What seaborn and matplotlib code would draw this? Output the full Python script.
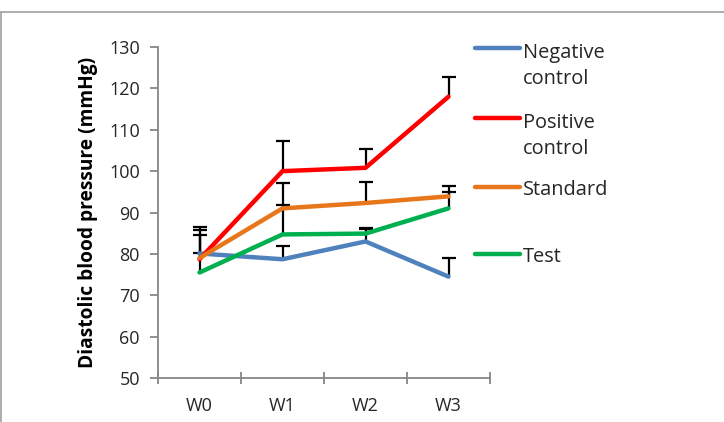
import numpy as np
import pandas as pd
import matplotlib
matplotlib.use("Agg")
import matplotlib.pyplot as plt
import seaborn as sns
from matplotlib.lines import Line2D

weeks = ["W0", "W1", "W2", "W3"]
groups = ["Negative control", "Positive control", "Standard", "Test"]
neg_mean = [80.1, 78.7, 83.0, 74.5]
neg_err = [6.3, 3.2, 3.2, 4.4]
pos_mean = [78.7, 100.0, 100.8, 118.0]
pos_err = [7.0, 7.3, 4.6, 4.8]
std_mean = [79.0, 91.0, 92.3, 93.9]
std_err = [5.6, 6.1, 5.0, 2.4]
test_mean = [75.5, 84.7, 84.9, 91.0]
test_err = [4.6, 7.2, 1.2, 4.0]
colors = ["#4F81BD", "#FF0000", "#E8761B", "#00B050"]

means = [neg_mean, pos_mean, std_mean, test_mean]
errs = [neg_err, pos_err, std_err, test_err]

rows = []
for g, m, e in zip(groups, means, errs):
    for i, w in enumerate(weeks):
        rows.append({"group": g, "week": w, "x": i, "mean": m[i], "err": e[i]})
df = pd.DataFrame(rows)

sns.set_theme(style="white")
plt.rcParams['font.family'] = ['Open Sans', 'DejaVu Sans']

W, H = 724, 422
fig = plt.figure(figsize=(W / 100, H / 100), dpi=100)
ax = fig.add_axes([158 / W, (H - 378) / H, 332 / W, 331 / H])

# error bars (plus only), beneath lines
for g in groups:
    sub = df[df.group == g]
    cont = ax.errorbar(sub["x"], sub["mean"], yerr=[np.zeros(len(sub)), sub["err"]],
                       fmt="none", ecolor="black", elinewidth=1.6, capsize=5,
                       capthick=1.6, zorder=1.5)
    caps = cont.lines[1]
    if len(caps) == 2:
        caps[0].set_visible(False)

sns.lineplot(data=df, x="x", y="mean", hue="group", hue_order=groups,
             palette=colors, linewidth=3.2, ax=ax, legend=False,
             estimator=None, sort=False, solid_capstyle="round",
             solid_joinstyle="round", zorder=2)

ax.set_xlim(-0.5, 3.5)
ax.set_ylim(50, 130)
ax.set_yticks(np.arange(50, 131, 10))
ax.set_xticks([-0.5, 0.5, 1.5, 2.5, 3.5])
ax.set_xticklabels([])
ax.set_xticks(range(4), minor=True)
ax.set_xticklabels(weeks, minor=True)
ax.tick_params(axis="x", which="major", direction="inout", length=9,
               width=1.3, color="#868686", bottom=True)
ax.tick_params(axis="x", which="minor", length=0, pad=14, labelsize=13,
               labelcolor="#262626")
ax.tick_params(axis="y", direction="out", length=6, width=1.3,
               color="#868686", left=True, pad=7, labelsize=13,
               labelcolor="#262626")
for s in ["top", "right"]:
    ax.spines[s].set_visible(False)
for s in ["left", "bottom"]:
    ax.spines[s].set_color("#868686")
    ax.spines[s].set_linewidth(1.3)
ax.set_xlabel("")
ax.set_ylabel("Diastolic blood pressure (mmHg)", fontweight="bold",
              fontsize=13.8, color="black")
ax.yaxis.set_label_coords((98 - 158) / 332, 0.5)

# legend drawn manually to match multi-line layout
leg_y = [48, 118, 187, 254]
leg_labels = ["Negative\ncontrol", "Positive\ncontrol", "Standard", "Test"]
for y, lab, c in zip(leg_y, leg_labels, colors):
    fy = 1 - y / H
    fig.add_artist(Line2D([475 / W, 520 / W], [fy, fy], transform=fig.transFigure,
                          color=c, lw=3.2, solid_capstyle="round"))
    nl = lab.count("\n")
    fig.text(523 / W, 1 - (y + 8 + 28 * nl) / H, lab, ha="left", va="baseline",
             fontsize=14.4, color="#262626", linespacing=1.42)

# outer chart border (top and left visible)
fig.add_artist(Line2D([0, 1], [1 - 11.5 / H] * 2, transform=fig.transFigure,
                      color="#A6A6A6", lw=1.3))
fig.add_artist(Line2D([0.6 / W] * 2, [0, 1 - 11.5 / H], transform=fig.transFigure,
                      color="#A6A6A6", lw=1.3))

fig.savefig("out.png", dpi=100)
